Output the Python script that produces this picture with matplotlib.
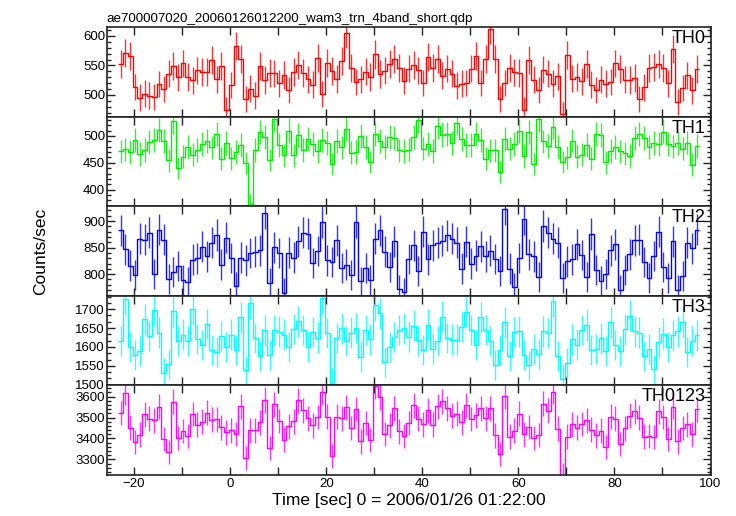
import numpy as np
import matplotlib
matplotlib.use("Agg")
import matplotlib.pyplot as plt
from matplotlib.ticker import MultipleLocator

plt.rcParams['font.family'] = ['Liberation Sans', 'DejaVu Sans']

title = "ae700007020_20060126012200_wam3_trn_4band_short.qdp"
xlabel = "Time [sec] 0 = 2006/01/26 01:22:00"
ylabel = "Counts/sec"
t_start = -23.3
bin_width = 1.0

th0 = [552.2, 570.8, 566.3, 513.5, 495.5, 502.2, 498.9, 496.6, 518.5, 510.1,
       536.0, 548.9, 529.8, 553.4, 530.3, 524.7, 541.6, 538.8, 538.8, 559.0,
       526.4, 548.9, 474.7, 516.9, 582.6, 560.7, 493.3, 510.7, 498.9, 549.4,
       525.3, 537.1, 536.5, 519.7, 533.7, 508.4, 538.8, 550.6, 537.1, 526.4,
       517.4, 562.4, 501.7, 553.9, 540.4, 527.0, 557.3, 604.5, 546.1, 521.9,
       526.4, 539.3, 530.3, 568.5, 535.4, 541.0, 552.2, 560.7, 545.5, 524.2,
       544.4, 551.1, 541.6, 520.2, 564.0, 545.5, 561.2, 532.6, 544.4, 536.0,
       515.7, 519.1, 520.2, 544.4, 566.3, 520.2, 561.2, 611.2, 561.2, 493.3,
       520.2, 545.5, 538.2, 537.1, 474.2, 559.6, 525.8, 508.4, 542.7, 536.0,
       519.1, 531.5, 466.9, 568.0, 527.5, 530.3, 523.0, 552.8, 517.4, 508.4,
       525.8, 519.1, 521.9, 553.4, 543.8, 525.8, 525.3, 528.7, 493.3, 512.9,
       545.5, 547.2, 552.8, 545.5, 519.7, 578.1, 487.6, 511.8, 533.1, 507.9,
       543.8]

th1 = [471.2, 474.8, 469.9, 492.0, 466.3, 473.6, 488.3, 492.0, 511.0, 490.8,
       454.6, 527.0, 440.5, 461.3, 479.8, 465.0, 473.6, 485.3, 490.2, 478.5,
       503.1, 457.1, 486.5, 458.3, 469.9, 482.8, 449.7, 373.0, 473.6, 506.7,
       498.2, 455.2, 530.7, 483.4, 463.8, 509.8, 463.8, 501.2, 473.6, 493.9,
       484.7, 471.8, 492.0, 486.5, 447.9, 490.2, 478.5, 512.3, 468.7, 469.9,
       499.4, 479.1, 451.5, 503.1, 490.2, 479.1, 497.5, 495.7, 473.0, 471.8,
       474.2, 497.5, 528.8, 476.1, 484.7, 471.8, 517.8, 502.5, 503.7, 486.5,
       524.5, 494.5, 483.4, 483.4, 503.1, 492.0, 457.1, 473.0, 473.0, 433.1,
       493.9, 476.1, 484.7, 509.2, 462.6, 506.7, 447.9, 530.7, 489.6, 481.6,
       516.0, 479.1, 451.5, 460.1, 491.4, 461.3, 465.0, 482.8, 457.1, 503.1,
       501.8, 450.9, 471.8, 479.1, 471.2, 467.5, 462.6, 495.7, 503.7, 496.3,
       479.1, 486.5, 484.7, 508.0, 484.7, 480.4, 486.5, 476.1, 487.7, 446.6,
       481.6]

th2 = [882.6, 846.6, 816.2, 798.1, 867.1, 865.2, 878.3, 800.0, 883.9, 864.6,
       790.7, 803.7, 815.5, 789.4, 785.7, 827.3, 829.8, 851.6, 833.5, 859.6,
       873.9, 818.0, 868.9, 830.4, 777.0, 831.1, 826.1, 839.8, 842.2, 844.7,
       915.5, 783.2, 850.3, 839.8, 764.6, 840.4, 831.1, 861.5, 878.3, 876.4,
       820.5, 843.5, 898.8, 826.1, 823.0, 863.4, 811.2, 818.0, 797.5, 898.8,
       786.3, 811.2, 789.4, 867.1, 882.6, 842.2, 813.7, 861.5, 771.4, 765.8,
       828.6, 854.0, 806.2, 880.1, 828.0, 854.0, 859.6, 862.7, 873.3, 867.1,
       859.0, 810.6, 860.9, 819.9, 834.8, 852.2, 833.5, 844.1, 828.6, 805.6,
       923.0, 810.6, 775.2, 830.4, 904.3, 837.3, 833.5, 793.8, 891.3, 878.3,
       867.1, 859.6, 792.5, 824.2, 828.0, 855.9, 836.0, 794.4, 875.8, 808.1,
       787.6, 800.6, 844.7, 856.5, 770.8, 808.1, 837.3, 863.4, 864.6, 822.4,
       793.2, 834.2, 880.1, 813.7, 792.5, 861.5, 770.8, 796.9, 859.6, 849.1,
       883.9]

th3 = [1615.8, 1726.3, 1599.1, 1578.1, 1589.5, 1673.7, 1628.9, 1697.4, 1637.7, 1530.7,
       1553.5, 1694.7, 1615.8, 1632.5, 1615.8, 1700.0, 1621.1, 1605.3, 1660.5, 1593.0,
       1587.7, 1628.9, 1599.1, 1632.5, 1592.1, 1678.9, 1537.7, 1715.8, 1623.7, 1576.3,
       1644.7, 1579.8, 1644.7, 1640.4, 1632.5, 1600.0, 1647.4, 1668.4, 1644.7, 1600.0,
       1639.5, 1624.6, 1729.8, 1636.8, 1505.3, 1623.7, 1649.1, 1614.9, 1637.7, 1650.0,
       1573.7, 1644.7, 1620.2, 1710.5, 1689.5, 1558.8, 1600.0, 1626.3, 1644.7, 1649.1,
       1626.3, 1656.1, 1617.5, 1591.2, 1658.8, 1594.7, 1614.9, 1679.8, 1623.7, 1619.3,
       1619.3, 1652.6, 1693.9, 1644.7, 1606.1, 1678.9, 1644.7, 1615.8, 1551.8, 1592.1,
       1665.8, 1577.2, 1639.5, 1641.2, 1578.1, 1550.9, 1593.9, 1582.5, 1641.2, 1636.8,
       1721.1, 1577.2, 1514.0, 1557.0, 1620.2, 1604.4, 1644.7, 1657.0, 1592.1, 1594.7,
       1622.8, 1588.6, 1664.9, 1605.3, 1588.6, 1646.5, 1683.3, 1641.2, 1637.7, 1577.2,
       1594.7, 1540.4, 1613.2, 1635.1, 1600.0, 1630.7, 1641.2, 1664.9, 1586.8, 1615.8,
       1630.7]

th0123 = [3521.8, 3618.5, 3451.5, 3381.7, 3418.4, 3514.7, 3494.4, 3486.0, 3551.1, 3396.2,
          3334.8, 3574.3, 3401.6, 3436.6, 3411.6, 3517.0, 3466.1, 3481.0, 3523.0, 3490.1,
          3491.1, 3452.9, 3429.2, 3438.1, 3421.6, 3553.5, 3306.8, 3439.3, 3438.4, 3477.1,
          3583.7, 3355.3, 3562.2, 3483.3, 3394.6, 3458.6, 3481.1, 3581.7, 3533.7, 3496.7,
          3462.1, 3502.3, 3622.3, 3503.3, 3316.6, 3504.3, 3496.1, 3549.7, 3450.0, 3540.6,
          3385.8, 3474.3, 3391.4, 3649.2, 3597.7, 3421.1, 3463.4, 3544.2, 3434.6, 3410.9,
          3473.5, 3558.7, 3494.1, 3467.6, 3535.5, 3466.0, 3553.5, 3577.6, 3545.1, 3508.9,
          3518.5, 3476.8, 3558.4, 3492.4, 3510.3, 3543.3, 3496.5, 3544.1, 3414.6, 3324.1,
          3602.9, 3409.4, 3437.6, 3517.9, 3419.2, 3454.5, 3401.1, 3415.4, 3564.8, 3532.7,
          3623.3, 3447.4, 3224.9, 3409.3, 3467.1, 3451.9, 3468.7, 3487.0, 3442.4, 3414.3,
          3438.0, 3359.2, 3503.3, 3494.3, 3374.4, 3447.9, 3508.5, 3529.0, 3499.3, 3408.8,
          3412.5, 3408.3, 3530.8, 3502.3, 3396.9, 3550.7, 3386.1, 3449.7, 3467.2, 3419.4,
          3540.0]

bands = ["TH0", "TH1", "TH2", "TH3", "TH0123"]
series = [th0, th1, th2, th3, th0123]
colors = ["#ff0000", "#00ee00", "#0000ff", "#00ffff", "#ff00ff"]
ylims = [(463, 614.6), (369.3, 535.6), (759.6, 928), (1499, 1736), (3228, 3655)]
major = [50, 50, 50, 50, 100]
minor = [10, 10, 10, 50 / 3, 20]

fig = plt.figure(figsize=(7.36, 5.16), dpi=100)
top, bottom = 1 - 27.3 / 516, 1 - 474.5 / 516
left, right = 106.7 / 736, 710.7 / 736
h = (top - bottom) / 5

axes = []
for k in range(5):
    ax = fig.add_axes([left, top - (k + 1) * h, right - left, h])
    vals = np.array(series[k])
    n = len(vals)
    edges = t_start + bin_width * np.arange(n + 1)
    centers = 0.5 * (edges[:-1] + edges[1:])
    ax.errorbar(centers, vals, yerr=np.sqrt(vals), fmt='none',
                ecolor=colors[k], elinewidth=1.0, alpha=0.8)
    ax.stairs(vals, edges, baseline=None, color=colors[k], linewidth=1.0)
    ax.set_xlim(-25.7, 100.05)
    ax.set_ylim(*ylims[k])
    ax.xaxis.set_major_locator(MultipleLocator(20))
    ax.xaxis.set_minor_locator(MultipleLocator(10))
    ax.yaxis.set_major_locator(MultipleLocator(major[k]))
    ax.yaxis.set_minor_locator(MultipleLocator(minor[k]))
    ax.tick_params(which='both', direction='in', top=True, right=True,
                   labelsize=9.5, width=1.0, colors='#222222', labelcolor='black',
                   pad=1.2)
    ax.tick_params(which='major', length=6)
    ax.tick_params(which='minor', length=3)
    ax.tick_params(axis='x', which='minor', length=6)
    for s in ax.spines.values():
        s.set_linewidth(1.2)
        s.set_color('#222222')
    if k < 4:
        ax.tick_params(labelbottom=False)
    ax.text(0.992, 0.965, bands[k], transform=ax.transAxes, ha='right', va='top',
            fontsize=13)
    axes.append(ax)

axes[-1].tick_params(axis='x', pad=2.5)
axes[0].set_title(title, loc='left', fontsize=9.6, pad=4)
axes[-1].set_xlabel(xlabel, fontsize=12.5, labelpad=2)
fig.text(0.055, (top + bottom) / 2, ylabel, rotation=90, ha='center', va='center',
         fontsize=12.5)

fig.savefig("out.png", dpi=100)
